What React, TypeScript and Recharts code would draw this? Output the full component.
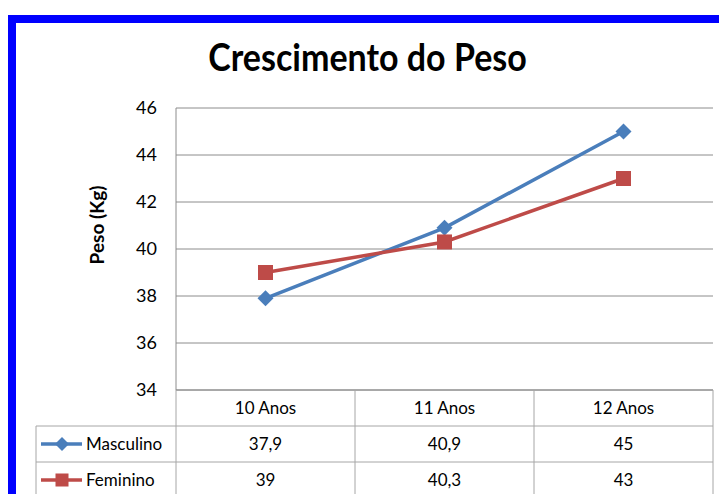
import { LineChart, Line, XAxis, YAxis, CartesianGrid } from "recharts";

const categories = ["10 Anos", "11 Anos", "12 Anos"];
const masculino = [37.9, 40.9, 45];
const feminino = [39, 40.3, 43];
const yTicks = [34, 36, 38, 40, 42, 44, 46];

const BLUE = "#4A7EBB";
const RED = "#BE4B48";
const GRID = "#8C8C8C";
const CELL = "#A6A6A6";
const FONT = "Lato, 'Noto Sans', sans-serif";

const PLOT_LEFT = 176;
const PLOT_RIGHT = 713;
const PLOT_BOTTOM = 390;
const ROW_H = 36;
const LEGEND_LEFT = 36;

const data = categories.map((name, i) => ({
  name,
  masculino: masculino[i],
  feminino: feminino[i],
}));

const fmt = (v: number) => String(v).replace(".", ",");

function Diamond({ cx, cy, r = 8 }: { cx: number; cy: number; r?: number }) {
  return (
    <path
      d={`M${cx},${cy - r}L${cx + r},${cy}L${cx},${cy + r}L${cx - r},${cy}Z`}
      fill={BLUE}
    />
  );
}

function Square({ cx, cy, s = 15 }: { cx: number; cy: number; s?: number }) {
  return <rect x={cx - s / 2} y={cy - s / 2} width={s} height={s} fill={RED} />;
}

// draws the data table below the axis, one column per category
function TableTick(props: any) {
  const { x, payload, index } = props;
  const bw = (PLOT_RIGHT - PLOT_LEFT) / categories.length;
  const left = x - bw / 2;
  const right = x + bw / 2;
  const rows = [PLOT_BOTTOM + ROW_H, PLOT_BOTTOM + ROW_H * 2, PLOT_BOTTOM + ROW_H * 3];
  const txt = { fontFamily: FONT, fontSize: 17, fill: "#000", textAnchor: "middle" as const };
  return (
    <g>
      {index === 0 && (
        <g>
          <line x1={left} x2={left} y1={PLOT_BOTTOM} y2={500} stroke={CELL} />
          <line x1={LEGEND_LEFT} x2={LEGEND_LEFT} y1={rows[0]} y2={500} stroke={CELL} />
          <line x1={LEGEND_LEFT} x2={left} y1={rows[0]} y2={rows[0]} stroke={CELL} />
          <line x1={LEGEND_LEFT} x2={left} y1={rows[1]} y2={rows[1]} stroke={CELL} />
          <line x1={41} x2={82} y1={rows[0] + 18} y2={rows[0] + 18} stroke={BLUE} strokeWidth={3.5} />
          <Diamond cx={62} cy={rows[0] + 18} r={7} />
          <text x={86} y={rows[0] + 24} {...txt} textAnchor="start">Masculino</text>
          <line x1={41} x2={82} y1={rows[1] + 18} y2={rows[1] + 18} stroke={RED} strokeWidth={3.5} />
          <Square cx={62} cy={rows[1] + 18} s={13} />
          <text x={86} y={rows[1] + 24} {...txt} textAnchor="start">Feminino</text>
        </g>
      )}
      <line x1={right} x2={right} y1={PLOT_BOTTOM} y2={500} stroke={CELL} />
      {rows.map((ry) => (
        <line key={ry} x1={left} x2={right} y1={ry} y2={ry} stroke={CELL} />
      ))}
      <text x={x} y={PLOT_BOTTOM + 24} {...txt}>{payload.value}</text>
      <text x={x} y={rows[0] + 24} {...txt}>{fmt(masculino[index])}</text>
      <text x={x} y={rows[1] + 24} {...txt}>{fmt(feminino[index])}</text>
    </g>
  );
}

export default function App() {
  return (
    <div
      style={{
        position: "absolute",
        left: 0,
        top: 0,
        width: 719,
        height: 494,
        overflow: "hidden",
        background: "#fff",
      }}
    >
      <div
        style={{
          position: "absolute",
          left: 8,
          top: 15,
          width: 760,
          height: 540,
          borderTop: "8px solid #0000FF",
          borderLeft: "8px solid #0000FF",
        }}
      />
      <div
        style={{
          position: "absolute",
          left: 16,
          width: 703,
          top: 34,
          textAlign: "center",
          fontFamily: FONT,
          fontWeight: 700,
          fontSize: 34,
          lineHeight: "44px",
          color: "#000",
          transform: "scaleY(1.12)",
        }}
      >
        Crescimento do Peso
      </div>
      <div style={{ position: "absolute", left: 0, top: 0 }}>
        <LineChart
          width={719}
          height={494}
          data={data}
          margin={{ top: 108, right: 6, bottom: 0, left: LEGEND_LEFT }}
        >
          <CartesianGrid vertical={false} stroke={GRID} />
          <XAxis
            dataKey="name"
            scale="band"
            height={104}
            tickLine={false}
            axisLine={{ stroke: GRID }}
            tick={<TableTick />}
            interval={0}
          />
          <YAxis
            width={140}
            domain={[34, 46]}
            ticks={yTicks}
            tickLine={false}
            tickSize={0}
            tickMargin={19}
            axisLine={{ stroke: GRID }}
            tick={{ fontFamily: FONT, fontSize: 18, fill: "#000" }}
            label={{
              content: () => (
                <text
                  x={96}
                  y={225}
                  transform="rotate(-90 96 225)"
                  textAnchor="middle"
                  dominantBaseline="central"
                  fontFamily={FONT}
                  fontWeight={700}
                  fontSize={19}
                  fill="#000"
                >
                  Peso (Kg)
                </text>
              ),
            }}
          />
          <Line
            dataKey="masculino"
            stroke={BLUE}
            strokeWidth={3.5}
            isAnimationActive={false}
            dot={(p: any) => <Diamond key={`m${p.index}`} cx={p.cx} cy={p.cy} />}
          />
          <Line
            dataKey="feminino"
            stroke={RED}
            strokeWidth={3.5}
            isAnimationActive={false}
            dot={(p: any) => <Square key={`f${p.index}`} cx={p.cx} cy={p.cy} />}
          />
        </LineChart>
      </div>
    </div>
  );
}
